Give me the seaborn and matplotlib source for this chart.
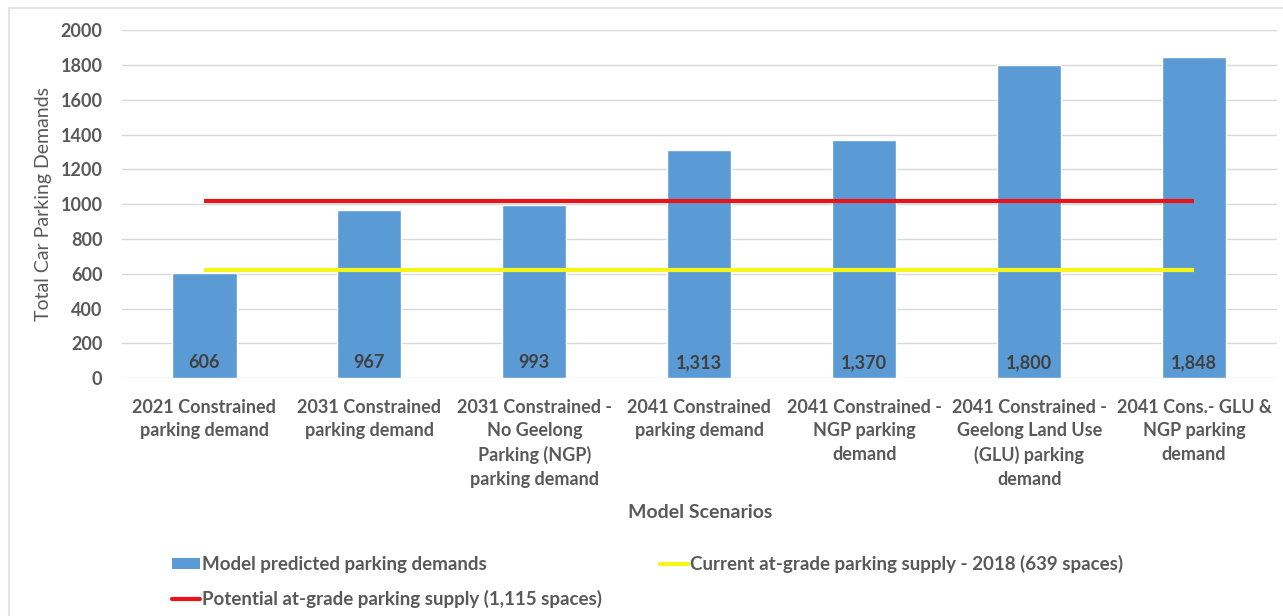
import numpy as np
import pandas as pd
import matplotlib
matplotlib.use("Agg")
import matplotlib.pyplot as plt
from matplotlib.patches import Patch
from matplotlib.lines import Line2D
import seaborn as sns

# --- data -------------------------------------------------------------
scenarios = [
    "2021 Constrained\nparking demand",
    "2031 Constrained\nparking demand",
    "2031 Constrained -\nNo Geelong\nParking (NGP)\nparking demand",
    "2041 Constrained\nparking demand",
    "2041 Constrained -\nNGP parking\ndemand",
    "2041 Constrained -\nGeelong Land Use\n(GLU) parking\ndemand",
    "2041 Cons.- GLU &\nNGP parking\ndemand",
]
demand = [606, 967, 993, 1313, 1370, 1800, 1848]
current_supply = 620
potential_supply = 1020

y_ticks = [0, 200, 400, 600, 800, 1000, 1200, 1400, 1600, 1800, 2000]

legend_labels = [
    "Model predicted parking demands",
    "Potential at-grade parking supply (1,115 spaces)",
    "Current at-grade parking supply - 2018 (639 spaces)",
]

# --- style ------------------------------------------------------------
sns.set_theme(style="white")
plt.rcParams["font.family"] = ["Lato", "DejaVu Sans"]

BAR = "#5B9BD5"
RED = "#E8141A"
YELLOW = "#F5F51A"
TEXT = "#595959"
GRID = "#D9D9D9"

fig = plt.figure(figsize=(12.83, 6.16), dpi=100)
ax = fig.add_axes([0.095, 0.386, 0.900, 0.565])

df = pd.DataFrame({"scenario": scenarios, "demand": demand})
sns.barplot(data=df, x="scenario", y="demand", color=BAR, saturation=1,
            width=0.39, ax=ax, zorder=2)

xpos = np.arange(len(scenarios))
ax.plot(xpos, np.full(len(xpos), potential_supply), color=RED, lw=3,
        solid_capstyle="butt", zorder=3)
ax.plot(xpos, np.full(len(xpos), current_supply), color=YELLOW, lw=3,
        solid_capstyle="butt", zorder=3)

# value labels inside the bars
for x, v in zip(xpos, demand):
    ax.text(x, 90, f"{v:,}", ha="center", va="center", fontsize=13,
            fontweight="bold", color="#404040", zorder=4)

ax.set_ylim(0, 2000)
ax.set_xlim(-0.5, len(scenarios) - 0.5)
ax.set_yticks(y_ticks)
ax.yaxis.grid(True, color=GRID, lw=1, zorder=0)
ax.set_axisbelow(True)
for s in ax.spines.values():
    s.set_visible(False)

ax.tick_params(axis="both", length=0)
ax.tick_params(axis="y", pad=14, labelsize=13, labelcolor=TEXT)
ax.tick_params(axis="x", pad=15, labelsize=13, labelcolor=TEXT)
for lbl in ax.get_yticklabels():
    lbl.set_fontweight("bold")
for lbl in ax.get_xticklabels():
    lbl.set_fontweight("bold")
    lbl.set_linespacing(1.45)
    lbl.set_va("top")

ax.set_ylabel("Total Car Parking Demands", fontsize=14, color=TEXT, labelpad=6)
ax.set_xlabel("")
fig.text(0.5455, 1 - 512 / 616, "Model Scenarios", ha="center", va="center",
         fontsize=14, fontweight="bold", color=TEXT)

handles = [
    Patch(facecolor=BAR, edgecolor="none"),
    Line2D([0], [0], color=RED, lw=3),
    Line2D([0], [0], color=YELLOW, lw=3),
]
leg = fig.legend(handles, legend_labels, ncol=2, loc="upper left",
                 bbox_to_anchor=(172 / 1283, 1 - 555 / 616), frameon=False,
                 fontsize=13.5, handlelength=1.5, handleheight=0.55,
                 handletextpad=0.12, columnspacing=3.05, labelspacing=0.9,
                 borderaxespad=0, borderpad=0)
for t in leg.get_texts():
    t.set_color(TEXT)
    t.set_fontweight("bold")

# thin frame on the top and left edges of the chart area
fig.add_artist(Line2D([9 / 1283, 1.0], [1 - 8 / 616, 1 - 8 / 616],
                      transform=fig.transFigure, color="#E3E3E3", lw=1.5))
fig.add_artist(Line2D([9 / 1283, 9 / 1283], [0, 1 - 8 / 616],
                      transform=fig.transFigure, color="#E3E3E3", lw=1.5))

fig.savefig("out.png", dpi=100, facecolor="white")
